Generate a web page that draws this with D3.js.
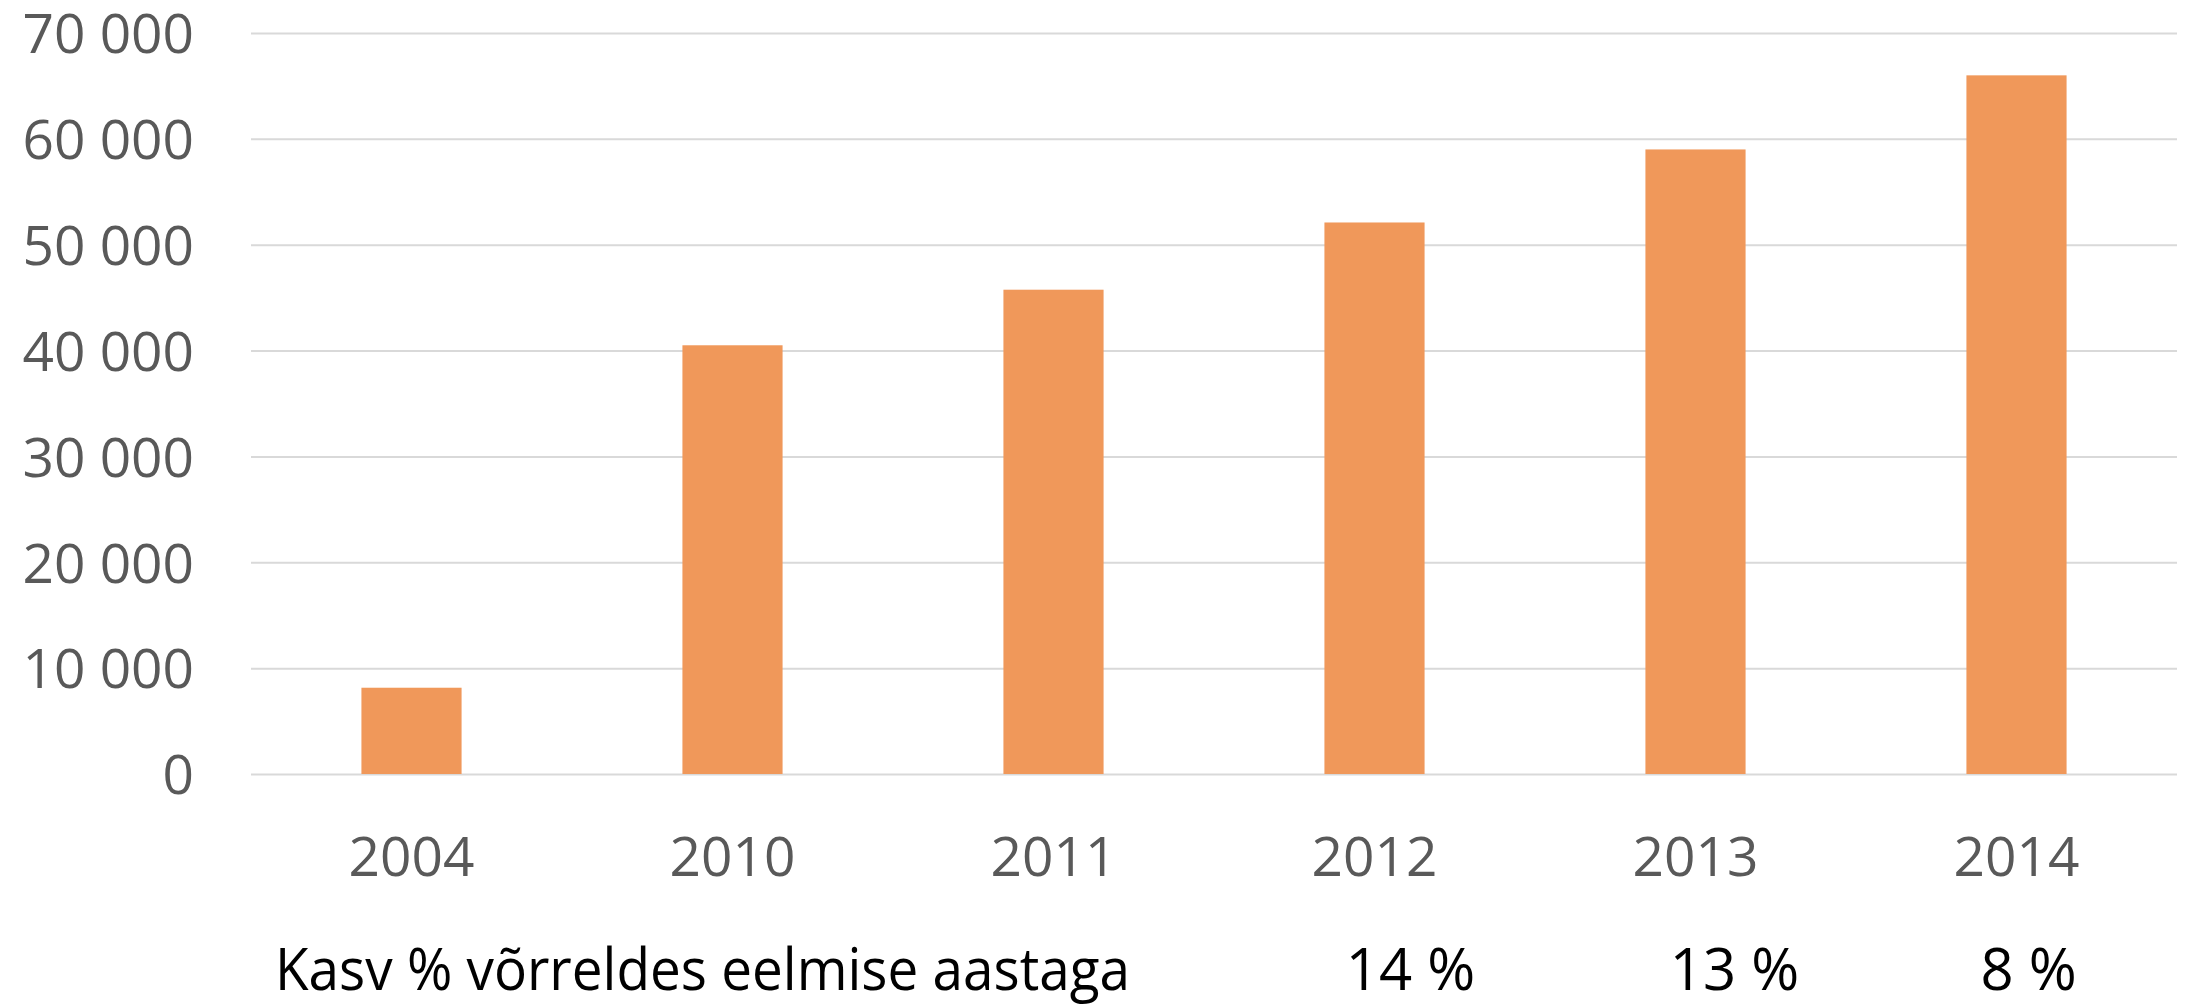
<!DOCTYPE html>
<html>
<head>
<meta charset="utf-8">
<script src="https://cdn.jsdelivr.net/npm/d3@7"></script>
<style>
  html, body { margin: 0; padding: 0; background: #ffffff; }
  svg { display: block; }
</style>
</head>
<body>
<svg id="chart" width="2188" height="1006"></svg>
<script>
// ---- data ----
const years = ["2004", "2010", "2011", "2012", "2013", "2014"];
const values = [8150, 40500, 45750, 52100, 59000, 66000];
const growthLabel = "Kasv % võrreldes eelmise aastaga";
const growthYears = ["2012", "2013", "2014"];
const growthText = ["14 %", "13 %", "8 %"];
const yTicks = [0, 10000, 20000, 30000, 40000, 50000, 60000, 70000];

// ---- layout ----
const plot = { left: 251, right: 2177, top: 33, bottom: 774 };

const svg = d3.select("#chart");

const x = d3.scaleBand()
  .domain(years)
  .range([plot.left, plot.right])
  .paddingInner(0.688)
  .paddingOuter(0.344);

const y = d3.scaleLinear()
  .domain([0, 70000])
  .range([plot.bottom, plot.top]);

const fmt = v => d3.format(",")(v).replace(/,/g, " ");

// gridlines + y labels
const yAxis = d3.axisLeft(y)
  .tickValues(yTicks)
  .tickSize(-(plot.right - plot.left))
  .tickPadding(57)
  .tickFormat(fmt);

const gy = svg.append("g")
  .attr("transform", `translate(${plot.left},0)`)
  .call(yAxis);
gy.select(".domain").remove();
gy.selectAll(".tick line")
  .attr("stroke", "#d9d9d9")
  .attr("stroke-width", 2);
gy.selectAll(".tick text")
  .attr("fill", "#595959")
  .attr("font-family", "'Open Sans', sans-serif")
  .attr("font-size", 55)
  .attr("dy", "0.36em");

// bars
svg.append("g")
  .selectAll("rect")
  .data(years.map((yr, i) => ({ yr, v: values[i] })))
  .join("rect")
  .attr("x", d => x(d.yr))
  .attr("width", x.bandwidth())
  .attr("y", d => y(d.v))
  .attr("height", d => y(0) - y(d.v))
  .attr("fill", "#f0985a");

// x axis labels
const xAxis = d3.axisBottom(x).tickSize(0).tickPadding(0);
const gx = svg.append("g")
  .attr("transform", `translate(0,${plot.bottom})`)
  .call(xAxis);
gx.select(".domain").remove();
gx.selectAll(".tick text")
  .attr("fill", "#595959")
  .attr("font-family", "'Open Sans', sans-serif")
  .attr("font-size", 55)
  .attr("y", 102)
  .attr("dy", 0);

// growth row
const rowBaseline = 990;
svg.append("text")
  .attr("x", 275)
  .attr("y", rowBaseline)
  .attr("fill", "#000000")
  .attr("font-family", "'Liberation Sans Narrow', 'Open Sans', sans-serif")
  .attr("font-size", 58)
  .attr("textLength", 855)
  .attr("lengthAdjust", "spacingAndGlyphs")
  .text(growthLabel);

const growthOffset = [36, 39, 12];
svg.append("g")
  .selectAll("text")
  .data(growthYears.map((yr, i) => ({ yr, t: growthText[i], i })))
  .join("text")
  .attr("x", d => x(d.yr) + x.bandwidth() / 2 + growthOffset[d.i])
  .attr("y", rowBaseline)
  .attr("text-anchor", "middle")
  .attr("fill", "#000000")
  .attr("font-family", "'Liberation Sans Narrow', 'Open Sans', sans-serif")
  .attr("font-size", 58)
  .text(d => d.t);
</script>
</body>
</html>
